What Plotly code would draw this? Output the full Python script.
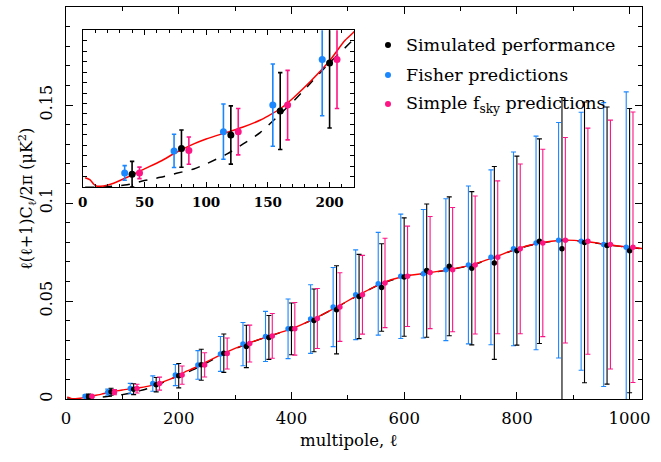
import plotly.graph_objects as go

# ---------------- data ----------------
bins = [40, 80, 120, 160, 200, 240, 280, 320, 360, 400, 440, 480, 520,
        560, 600, 640, 680, 720, 760, 800, 840, 880, 920, 960, 1000]
fisher_offset = -6
fsky_offset = 6

sim_val = [0.00124, 0.00369, 0.00499, 0.00728, 0.01188, 0.0175, 0.0234, 0.0268,
           0.0314, 0.0358, 0.0401, 0.0455, 0.0523, 0.0569, 0.0622, 0.0655, 0.0677,
           0.0667, 0.0694, 0.0757, 0.0805, 0.0766, 0.0799, 0.0783, 0.0757]
sim_err = [0.00123, 0.00178, 0.00278, 0.00367, 0.00622, 0.0079, 0.0098, 0.0108,
           0.0112, 0.0132, 0.0160, 0.0225, 0.0215, 0.0223, 0.0302, 0.0340, 0.0354,
           0.0391, 0.0492, 0.0482, 0.0522, 0.0772, 0.0716, 0.0707, 0.0725]

fisher_val = [0.00137, 0.00347, 0.00531, 0.00785, 0.0122, 0.0174, 0.0230, 0.0280,
              0.0319, 0.0358, 0.0408, 0.0469, 0.0532, 0.0588, 0.0626, 0.0639, 0.0660,
              0.0684, 0.0723, 0.0766, 0.0796, 0.0810, 0.0805, 0.0788, 0.0774]
fisher_err = [0.0007, 0.00159, 0.00264, 0.00393, 0.00537, 0.0073, 0.0089, 0.0110,
              0.0128, 0.0152, 0.0175, 0.0202, 0.0229, 0.0262, 0.0317, 0.0328, 0.0362,
              0.0403, 0.0446, 0.0494, 0.0545, 0.0601, 0.0658, 0.0724, 0.0793]

fsky_val = [0.00137, 0.00350, 0.00531, 0.00785, 0.0122, 0.0174, 0.0232, 0.0283,
            0.0322, 0.0358, 0.0411, 0.0469, 0.0532, 0.0592, 0.0626, 0.0645, 0.0660,
            0.0684, 0.0723, 0.0766, 0.0796, 0.0810, 0.0805, 0.0788, 0.0774]
fsky_err = [0.00055, 0.0013, 0.00222, 0.00332, 0.00467, 0.0062, 0.0079, 0.0094,
            0.0114, 0.0134, 0.0153, 0.0175, 0.0201, 0.0228, 0.0256, 0.0286, 0.0317,
            0.0352, 0.0390, 0.0433, 0.0478, 0.0524, 0.0577, 0.0635, 0.0690]

total_l = [2, 6, 9, 11, 17, 25, 36, 50, 63, 76, 90, 100, 117, 130, 144, 150, 160,
           171, 185, 200, 212, 220, 240, 280, 320, 360, 400, 440, 480, 520, 560,
           600, 640, 680, 720, 760, 800, 840, 880, 920, 960, 1000, 1022]
total_v = [0.0009, 0.0007, 0.00028, 0.00011, 0.00013, 0.00038, 0.00095, 0.00175,
           0.00248, 0.00334, 0.00414, 0.00461, 0.00525, 0.00575, 0.00642, 0.0068,
           0.0075, 0.00858, 0.01017, 0.01208, 0.01398, 0.01487, 0.0176, 0.0233,
           0.0281, 0.0321, 0.0358, 0.0409, 0.0469, 0.0532, 0.0590, 0.0626, 0.0642,
           0.0660, 0.0684, 0.0723, 0.0766, 0.0796, 0.0810, 0.0805, 0.0788, 0.0774,
           0.0768]

lens_l = [2, 10, 20, 36, 50, 63, 76, 90, 100, 117, 130, 144, 160, 171, 185, 200,
          220, 240, 280, 320, 360, 400, 440, 480, 520, 560, 600, 640, 680, 720,
          760, 800, 840, 880, 920, 960, 1000, 1022]
lens_v = [0.0, 0.00001, 0.00005, 0.00023, 0.00064, 0.00095, 0.00133, 0.00175,
          0.00223, 0.00318, 0.00414, 0.00524, 0.0070, 0.00826, 0.0100, 0.0119,
          0.0142, 0.0170, 0.0230, 0.0280, 0.0320, 0.0357, 0.0408, 0.0468, 0.0531,
          0.0589, 0.0625, 0.0641, 0.0659, 0.0683, 0.0722, 0.0765, 0.0795, 0.0809,
          0.0804, 0.0787, 0.0773, 0.0767]

legend_labels = ["Simulated performance", "Fisher predictions",
                 "Simple f<sub>sky</sub> predictions"]
x_ticks = [0, 200, 400, 600, 800, 1000]
y_ticks = [0, 0.05, 0.1, 0.15]
y_ticktext = ["0", "0.05", "0.1", "0.15"]
inset_x_ticks = [0, 50, 100, 150, 200]

# ---------------- style ----------------
BLUE = "#1a87ff"
PINK = "#ff1485"
BLACK = "#000000"
RED = "#ff0000"
SERIF = "DejaVu Serif"

fig = go.Figure()

fisher_l = [b + fisher_offset for b in bins]
fsky_l = [b + fsky_offset for b in bins]


def add_panel(xa, ya, msize, ew, ecap, lw):
    fig.add_trace(go.Scatter(x=lens_l, y=lens_v, mode="lines", xaxis=xa, yaxis=ya,
                             line=dict(color=BLACK, width=lw, dash="dash",
                                       shape="spline", smoothing=0.6),
                             showlegend=False, hoverinfo="skip"))
    fig.add_trace(go.Scatter(x=total_l, y=total_v, mode="lines", xaxis=xa, yaxis=ya,
                             line=dict(color=RED, width=lw, shape="spline",
                                       smoothing=0.6),
                             showlegend=False, hoverinfo="skip"))
    for xs, ys, es, col in [(fisher_l, fisher_val, fisher_err, BLUE),
                            (bins, sim_val, sim_err, BLACK),
                            (fsky_l, fsky_val, fsky_err, PINK)]:
        fig.add_trace(go.Scatter(x=xs, y=ys, mode="markers", xaxis=xa, yaxis=ya,
                                 marker=dict(color=col, size=msize),
                                 error_y=dict(type="data", array=es, visible=True,
                                              color=col, thickness=ew, width=ecap),
                                 showlegend=False))


add_panel("x", "y", 5.5, 1.1, 2.5, 1.4)
add_panel("x2", "y2", 7, 1.6, 2.2, 1.5)

axis_common = dict(showline=True, linecolor="black", linewidth=1.3, mirror="ticks",
                   ticks="inside", showgrid=False, zeroline=False,
                   tickcolor="black")

fig.update_layout(
    width=661, height=462,
    margin=dict(l=66, r=19, t=7, b=63),
    paper_bgcolor="white", plot_bgcolor="white",
    font=dict(family=SERIF, size=16, color="black"),
    showlegend=False,
    xaxis=dict(axis_common, domain=[0, 1], range=[0, 1022], tickvals=x_ticks,
               ticklen=7, tickwidth=1.2,
               minor=dict(dtick=100, ticks="inside", ticklen=4, tickwidth=1.2,
                          tickcolor="black", showgrid=False),
               tickfont=dict(family=SERIF, size=16.5), ticklabelstandoff=4,
               anchor="y"),
    yaxis=dict(axis_common, domain=[0, 1], range=[0, 0.2], tickvals=y_ticks,
               ticktext=y_ticktext, tickangle=-90, ticklen=7, tickwidth=1.2,
               minor=dict(dtick=0.01, ticks="inside", ticklen=4, tickwidth=1.2,
                          tickcolor="black", showgrid=False),
               tickfont=dict(family=SERIF, size=16), ticklabelstandoff=6,
               anchor="x"),
    xaxis2=dict(axis_common, domain=[0.029, 0.5005], range=[0, 220],
                tickvals=inset_x_ticks, ticklen=5, tickwidth=1.2,
                minor=dict(dtick=10, ticks="inside", ticklen=3, tickwidth=1.1,
                           tickcolor="black", showgrid=False),
                tickfont=dict(family=SERIF, size=13.5, weight="bold"),
                ticklabelstandoff=2, anchor="y2"),
    yaxis2=dict(axis_common, domain=[0.5402, 0.9407], range=[0, 0.015],
                dtick=0.001, showticklabels=False, ticklen=4, tickwidth=1.1,
                anchor="x2"),
)

# axis titles
fig.add_annotation(text="multipole, ℓ", xref="paper", yref="paper",
                   x=0.49, y=-0.106, xanchor="center", yanchor="middle",
                   showarrow=False, font=dict(family=SERIF, size=16.5))
fig.add_annotation(text="ℓ(ℓ+1)C<sub>ℓ</sub>/2π (μK<sup>2</sup>)", xref="paper",
                   yref="paper", x=-0.068, y=0.51, xanchor="center",
                   yanchor="middle", textangle=-90, showarrow=False,
                   font=dict(family=SERIF, size=16))

# legend (manual)
leg_y_px = [45, 75, 104]
leg_cols = [BLACK, BLUE, PINK]
for lab, ypx, col in zip(legend_labels, leg_y_px, leg_cols):
    yp = (399 - ypx) / 392.0
    fig.add_shape(type="circle", xref="paper", yref="paper",
                  xsizemode="pixel", ysizemode="pixel",
                  xanchor=(388 - 66) / 576.0, yanchor=yp,
                  x0=-3, x1=3, y0=-3, y1=3,
                  fillcolor=col, line=dict(color=col, width=0))
    fig.add_annotation(text=lab, xref="paper", yref="paper",
                       x=(404 - 66) / 576.0, y=yp, xanchor="left",
                       yanchor="middle", showarrow=False,
                       font=dict(family=SERIF, size=17.5))

fig.write_html("out.html")
